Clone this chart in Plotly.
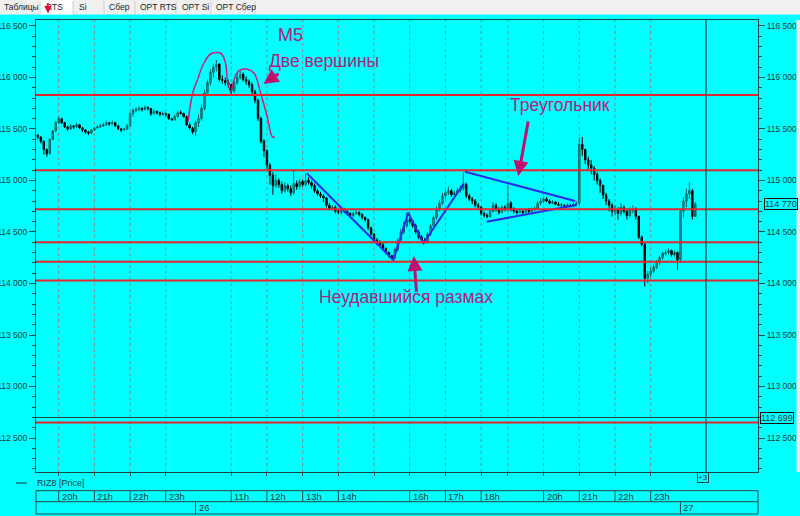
import plotly.graph_objects as go

# ---------------- data ----------------
# M5 bars of RIZ8, evening of the 25th -> morning of the 27th
bar_open = [
    115440, 115420, 115380, 115300, 115260, 115400, 115480,
    115560, 115600, 115560, 115520, 115500, 115530, 115520, 115540, 115510, 115490, 115470, 115460,
    115490, 115510, 115520, 115530, 115540, 115560, 115550, 115560, 115530, 115500, 115490, 115500,
    115530, 115650, 115680, 115690, 115700, 115690, 115710, 115700, 115650, 115670, 115660, 115640,
    115650, 115640, 115600, 115590, 115620, 115660, 115650, 115620, 115540, 115510,
    115470, 115560, 115600, 115700, 115850, 115950, 116050, 116100, 116130, 115980, 115970, 115950,
    115930, 115870, 115950, 116000, 116030, 115980, 115960, 115930, 115860, 115780, 115600, 115380,
    115290, 115150, 115050, 114950, 115000, 114960, 114900, 114950, 114920, 114880, 114970, 114940,
    114990, 114960, 115000, 114980, 114950, 114900, 114870, 114850, 114830, 114760, 114730, 114740,
    114700, 114690, 114720, 114700, 114680, 114660, 114680, 114690, 114670, 114640, 114620, 114540,
    114480, 114420, 114400, 114380, 114340, 114300, 114270, 114250, 114330, 114420, 114500, 114560,
    114620, 114600, 114560, 114500, 114450, 114420, 114400, 114480, 114560, 114640, 114720, 114780,
    114850, 114880, 114900, 114860, 114880, 114900, 114920, 114960, 114850, 114820, 114800, 114760,
    114740, 114680, 114660, 114650, 114700, 114760, 114720, 114690, 114740,
    114720, 114780, 114720, 114700, 114690, 114700, 114690, 114710, 114700, 114720, 114730, 114780,
    114800, 114820, 114800, 114780, 114790, 114770, 114760, 114760, 114750, 114760, 114750, 114770,
    114780, 115350, 115300, 115200, 115150, 115120, 115060, 115000, 114950, 114860, 114800, 114760,
    114700, 114720, 114680, 114740, 114700, 114660, 114710, 114720, 114650, 114450, 114380, 114050,
    114090, 114120, 114160, 114200, 114250, 114290, 114300, 114320, 114280, 114300,
    114230, 114700, 114800, 114870, 114900, 114650,
]
bar_high = [
    115450, 115430, 115390, 115310, 115410, 115490, 115580,
    115620, 115610, 115570, 115530, 115550, 115540, 115560, 115550, 115520, 115500, 115480, 115500,
    115520, 115540, 115550, 115560, 115580, 115570, 115580, 115570, 115540, 115510, 115510, 115550,
    115660, 115700, 115710, 115720, 115710, 115730, 115720, 115700, 115690, 115680, 115670, 115670,
    115660, 115650, 115610, 115640, 115680, 115680, 115660, 115630, 115560, 115520,
    115580, 115640, 115740, 115880, 115980, 116080, 116130, 116170, 116140, 116020, 116000, 115980,
    115940, 115970, 116040, 116070, 116050, 116010, 115980, 115950, 115880, 115790, 115620, 115400,
    115300, 115170, 115080, 115060, 115020, 114990, 114980, 114970, 114950, 115100, 115000, 115020,
    115010, 115070, 115030, 115000, 114970, 114920, 114890, 114870, 114840, 114780, 114760, 114760,
    114720, 114740, 114730, 114710, 114690, 114700, 114710, 114700, 114680, 114650, 114630, 114550,
    114490, 114440, 114420, 114390, 114350, 114310, 114280, 114350, 114440, 114530, 114600, 114690,
    114660, 114620, 114580, 114520, 114470, 114440, 114500, 114580, 114660, 114750, 114810, 114880,
    114910, 114940, 114920, 114900, 114930, 114950, 115080, 114980, 114870, 114840, 114820, 114780,
    114750, 114700, 114680, 114720, 114790, 114780, 114740, 114760, 114760,
    114960, 114800, 114740, 114720, 114720, 114720, 114730, 114730, 114740, 114750, 114800, 114830,
    114840, 114840, 114820, 114810, 114800, 114790, 114780, 114770, 114780, 114770, 114790, 114800,
    115420, 115420, 115310, 115230, 115200, 115140, 115080, 115020, 114960, 114880, 114820, 114780,
    114760, 114740, 114780, 114760, 114720, 114740, 114760, 114740, 114660, 114470, 114400, 114120,
    114150, 114190, 114230, 114270, 114310, 114330, 114340, 114330, 114320, 114310,
    114720, 114840, 114920, 114985, 114920, 114790,
]
bar_low = [
    115400, 115360, 115250, 115230, 115250, 115390, 115470,
    115550, 115550, 115510, 115480, 115490, 115500, 115510, 115500, 115470, 115450, 115440, 115450,
    115480, 115500, 115510, 115520, 115530, 115530, 115540, 115520, 115490, 115470, 115480, 115490,
    115520, 115620, 115660, 115670, 115670, 115680, 115680, 115630, 115640, 115640, 115620, 115630,
    115620, 115590, 115580, 115580, 115610, 115640, 115610, 115530, 115490, 115450,
    115430, 115520, 115580, 115680, 115820, 115920, 116000, 116060, 115960, 115940, 115920, 115900,
    115830, 115850, 115930, 115980, 115960, 115930, 115900, 115840, 115750, 115580, 115360, 115230,
    115100, 114960, 114860, 114930, 114930, 114870, 114880, 114890, 114850, 114860, 114910, 114920,
    114940, 114940, 114960, 114920, 114880, 114850, 114830, 114790, 114740, 114710, 114710, 114680,
    114670, 114670, 114680, 114660, 114640, 114640, 114670, 114650, 114620, 114600, 114520, 114460,
    114400, 114370, 114360, 114320, 114280, 114250, 114230, 114240, 114310, 114400, 114480, 114540,
    114580, 114540, 114480, 114430, 114400, 114390, 114390, 114460, 114540, 114620, 114700, 114760,
    114820, 114860, 114840, 114840, 114860, 114880, 114900, 114830, 114800, 114770, 114740, 114720,
    114660, 114640, 114630, 114640, 114690, 114700, 114670, 114680, 114700,
    114700, 114700, 114680, 114670, 114680, 114670, 114680, 114680, 114690, 114700, 114720, 114760,
    114780, 114790, 114770, 114770, 114760, 114750, 114740, 114740, 114740, 114740, 114740, 114750,
    114760, 115240, 115160, 115100, 115060, 115000, 114960, 114880, 114820, 114760, 114700, 114650,
    114660, 114620, 114660, 114680, 114620, 114640, 114680, 114620, 114430, 114360, 113970, 114000,
    114060, 114100, 114140, 114180, 114230, 114270, 114280, 114260, 114260, 114130,
    114200, 114640, 114740, 114820, 114620, 114740,
]
bar_close = [
    115420, 115380, 115300, 115260, 115400, 115480, 115560,
    115600, 115560, 115520, 115500, 115530, 115520, 115540, 115510, 115490, 115470, 115460, 115490,
    115510, 115520, 115530, 115540, 115560, 115550, 115560, 115530, 115500, 115490, 115500, 115530,
    115650, 115680, 115690, 115700, 115690, 115710, 115700, 115650, 115670, 115660, 115640, 115650,
    115640, 115600, 115590, 115620, 115660, 115650, 115620, 115540, 115510, 115470,
    115560, 115600, 115700, 115850, 115950, 116050, 116100, 116130, 115980, 115970, 115950, 115930,
    115870, 115950, 116000, 116030, 115980, 115960, 115930, 115860, 115780, 115600, 115380, 115290,
    115150, 115050, 114950, 115000, 114960, 114900, 114950, 114920, 114880, 114970, 114940, 114990,
    114960, 115000, 114980, 114950, 114900, 114870, 114850, 114830, 114760, 114730, 114740, 114700,
    114690, 114720, 114700, 114680, 114660, 114680, 114690, 114670, 114640, 114620, 114540, 114480,
    114420, 114400, 114380, 114340, 114300, 114270, 114250, 114330, 114420, 114500, 114560, 114620,
    114600, 114560, 114500, 114450, 114420, 114400, 114480, 114560, 114640, 114720, 114780, 114850,
    114880, 114900, 114860, 114880, 114900, 114920, 114960, 114850, 114820, 114800, 114760, 114740,
    114680, 114660, 114650, 114700, 114760, 114720, 114690, 114740, 114720,
    114780, 114720, 114700, 114690, 114700, 114690, 114710, 114700, 114720, 114730, 114780, 114800,
    114820, 114800, 114780, 114790, 114770, 114760, 114760, 114750, 114760, 114750, 114770, 114780,
    115350, 115300, 115200, 115150, 115120, 115060, 115000, 114950, 114860, 114800, 114760, 114700,
    114720, 114680, 114740, 114700, 114660, 114710, 114720, 114650, 114450, 114380, 114050, 114090,
    114120, 114160, 114200, 114250, 114290, 114300, 114320, 114280, 114300, 114230,
    114700, 114800, 114870, 114900, 114650, 114770,
]
bar_index = list(range(len(bar_close)))

# horizontal levels drawn on the chart
red_levels = [115830, 115100, 114720, 114400, 114210, 114030, 112650]
dark_level = 112699
last_price = 114770

# time axis (bar indexes of hour starts)
grid_idx = [7, 19, 31, 43, 65, 77, 89, 101, 113, 125, 137, 149, 158, 170, 182, 194, 206]
hour_label_idx = [7, 19, 31, 43, 65, 77, 89, 101, 125, 137, 149, 170, 182, 194, 206]
hour_labels = ["20h", "21h", "22h", "23h", "11h", "12h", "13h", "14h",
               "16h", "17h", "18h", "20h", "21h", "22h", "23h"]
day_idx = [53, 216]
day_labels = ["26", "27"]
cursor_idx = 224.6

# hand drawings (bar index, price)
curve_x = [50.5, 51.9, 53.6, 55.8, 58.1, 61.5, 63.1, 63.7, 64.8, 65.9, 67.6, 70.4, 72.7, 74.9, 77.1, 78.8, 79.7]
curve_y = [115571, 115830, 115976, 116138, 116228, 116235, 116138, 115976, 115862, 115976,
           116066, 116080, 116041, 115847, 115619, 115425, 115422]
zigzag_x = [90.4, 119.5, 124.5, 129.6, 143.2]
zigzag_y = [115070, 114228, 114687, 114390, 114973]
tri_upper_x = [143.6, 180.6]
tri_upper_y = [115085, 114801]
tri_lower_x = [150.9, 181.1]
tri_lower_y = [114600, 114762]

X_RANGE = [-0.63, 242.07]
Y_RANGE = [112170, 116558]

# ---------------- figure ----------------
W, H = 800, 516
L, R, T, B = 36, 42, 20, 44
PW, PH = W - L - R, H - T - B


def pxx(px):
    return (px - L) / PW


def pxy(py):
    return (H - B - py) / PH


CYAN = "#00FFFF"
INK = "#1d3a3a"
FRAME = "#1a4848"
MAG_T = "#B0207A"
MAG_A = "#C0106E"
BLUE = "#2a2af0"
RED = "#E4262C"
FONT = "Liberation Sans"

fig = go.Figure()

fig.add_trace(go.Candlestick(
    x=bar_index, open=bar_open, high=bar_high, low=bar_low, close=bar_close,
    increasing=dict(line=dict(color="#0b6464", width=1), fillcolor="#2a9a9a"),
    decreasing=dict(line=dict(color="#000000", width=1), fillcolor="#000000"),
    whiskerwidth=0, showlegend=False, hoverinfo="skip",
))

fig.add_trace(go.Scatter(x=curve_x, y=curve_y, mode="lines",
                         line=dict(color="#C81E7E", width=1.5, shape="spline"),
                         showlegend=False, hoverinfo="skip"))
for xs, ys in [(zigzag_x, zigzag_y), (tri_upper_x, tri_upper_y), (tri_lower_x, tri_lower_y)]:
    fig.add_trace(go.Scatter(x=xs, y=ys, mode="lines", line=dict(color=BLUE, width=2),
                             showlegend=False, hoverinfo="skip"))

# invisible trace to carry the right-hand axis
fig.add_trace(go.Scatter(x=[X_RANGE[0]], y=[Y_RANGE[0]], yaxis="y2", mode="markers",
                         marker=dict(opacity=0), showlegend=False, hoverinfo="skip"))

shapes = []
# tab bar
shapes.append(dict(type="rect", xref="paper", yref="paper", x0=pxx(0), x1=pxx(800),
                   y0=pxy(14.5), y1=pxy(0), fillcolor="#F0F0F0", line=dict(width=0), layer="below"))
shapes.append(dict(type="rect", xref="paper", yref="paper", x0=pxx(40), x1=pxx(73),
                   y0=pxy(14.5), y1=pxy(0), fillcolor="#FFFFFF", line=dict(width=0), layer="below"))
for sx in [40, 73, 104, 135, 176, 211, 255]:
    shapes.append(dict(type="line", xref="paper", yref="paper", x0=pxx(sx), x1=pxx(sx),
                       y0=pxy(14), y1=pxy(1), line=dict(color="#D0D0D0", width=1)))
# right strip
shapes.append(dict(type="rect", xref="paper", yref="paper", x0=pxx(796.5), x1=pxx(800),
                   y0=pxy(472), y1=pxy(20), fillcolor="#E8E8E8", line=dict(width=0)))

# dotted hour grid
for gi in grid_idx:
    shapes.append(dict(type="line", xref="x", yref="paper", x0=gi, x1=gi, y0=0, y1=1,
                       line=dict(color="#7d8c8c", width=1, dash="dot"), layer="below"))

# red support/resistance levels
for lv in red_levels:
    shapes.append(dict(type="line", xref="paper", yref="y", x0=0, x1=1, y0=lv, y1=lv,
                       line=dict(color=RED, width=2)))
shapes.append(dict(type="line", xref="paper", yref="y", x0=0, x1=1, y0=dark_level, y1=dark_level,
                   line=dict(color=FRAME, width=1)))
# cursor line
shapes.append(dict(type="line", xref="x", yref="paper", x0=cursor_idx, x1=cursor_idx, y0=0, y1=1,
                   line=dict(color="#1f6060", width=1.5)))

# bottom time table
for yy in [490.7, 501.7, 514]:
    shapes.append(dict(type="line", xref="paper", yref="paper", x0=0, x1=1, y0=pxy(yy), y1=pxy(yy),
                       line=dict(color=FRAME, width=1)))
for xx in [0, 1]:
    shapes.append(dict(type="line", xref="paper", yref="paper", x0=xx, x1=xx,
                       y0=pxy(514), y1=pxy(490.7), line=dict(color=FRAME, width=1)))
for hi in hour_label_idx:
    shapes.append(dict(type="line", xref="x", yref="paper", x0=hi, x1=hi,
                       y0=pxy(501.7), y1=pxy(490.7), line=dict(color=FRAME, width=1)))
for di in day_idx:
    shapes.append(dict(type="line", xref="x", yref="paper", x0=di, x1=di,
                       y0=pxy(514), y1=pxy(501.7), line=dict(color=FRAME, width=1)))
# legend dash
shapes.append(dict(type="line", xref="paper", yref="paper", x0=pxx(16), x1=pxx(27),
                   y0=pxy(483), y1=pxy(483), line=dict(color=INK, width=1)))

annotations = []
# tab labels
for tx, tl in [(2, "Таблицы"), (44, "RTS"), (77, "Si"), (107, "Сбер"), (138, "OPT RTS"),
               (180, "OPT Si"), (214, "OPT Сбер")]:
    annotations.append(dict(xref="paper", yref="paper", x=pxx(tx), y=pxy(7.5), text=tl,
                            showarrow=False, xanchor="left", yanchor="middle",
                            font=dict(family=FONT, size=8.5, color="#202020")))
annotations.append(dict(xref="paper", yref="paper", x=pxx(48), y=pxy(13.5), ax=0, ay=-12,
                        text="", showarrow=True, arrowhead=2, arrowsize=1, arrowwidth=1.5,
                        arrowcolor="#E0103A"))

# price boxes on the right axis
for pv, bx in [(last_price, 763.5), (dark_level, 759.5)]:
    annotations.append(dict(xref="paper", yref="y", x=pxx(bx), y=pv,
                            text=f"{pv:,}".replace(",", " "), showarrow=False,
                            xanchor="left", yanchor="middle", bgcolor=CYAN,
                            bordercolor="#101010", borderwidth=1, borderpad=0,
                            font=dict(family=FONT, size=9, color=INK)))

# legend text and "+3" box
annotations.append(dict(xref="paper", yref="paper", x=pxx(35), y=pxy(483), text="RIZ8 [Price]",
                        showarrow=False, xanchor="left", yanchor="middle",
                        font=dict(family=FONT, size=9, color=INK)))
annotations.append(dict(xref="x", yref="paper", x=223.6, y=pxy(477.5), text="+3",
                        showarrow=False, xanchor="center", yanchor="middle",
                        bordercolor=INK, borderwidth=1, borderpad=0,
                        font=dict(family=FONT, size=8, color=INK)))

# hour and day labels
for hi, hl in zip(hour_label_idx, hour_labels):
    annotations.append(dict(xref="x", yref="paper", x=hi, y=pxy(496.2), text=hl, showarrow=False,
                            xanchor="left", yanchor="middle", xshift=1,
                            font=dict(family=FONT, size=9.5, color=INK)))
for di, dl in zip(day_idx, day_labels):
    annotations.append(dict(xref="x", yref="paper", x=di, y=pxy(508), text=dl, showarrow=False,
                            xanchor="left", yanchor="middle", xshift=1,
                            font=dict(family=FONT, size=9.5, color=INK)))

# pattern captions
for tx, ty, tt, fs in [(84.8, 116413, "М5", 18), (96.2, 116160, "Две вершины", 17.5),
                       (175.5, 115733, "Треугольник", 17.5),
                       (123.7, 113869, "Неудавшийся размах", 17.5)]:
    annotations.append(dict(xref="x", yref="y", x=tx, y=ty, text=tt, showarrow=False,
                            xanchor="center", yanchor="middle",
                            font=dict(family=FONT, size=fs, color=MAG_T)))
for hx, hy, tx, ty in [(75.8, 115937, 81.4, 116047), (161.5, 115044, 164.9, 115587),
                       (126.4, 114267, 127.3, 113905)]:
    annotations.append(dict(xref="x", yref="y", x=hx, y=hy, axref="x", ayref="y", ax=tx, ay=ty,
                            text="", showarrow=True, arrowhead=2, arrowsize=1, arrowwidth=3,
                            arrowcolor=MAG_A))

yaxis_common = dict(
    range=Y_RANGE, tick0=112500, dtick=500, tickformat=",d",
    ticks="outside", ticklen=6, tickcolor=FRAME, tickwidth=1,
    minor=dict(dtick=100, tick0=112500, ticks="outside", ticklen=3, tickcolor=FRAME, showgrid=False),
    showgrid=False, zeroline=False, showline=True, linecolor=FRAME, linewidth=1,
    tickfont=dict(family=FONT, size=8.5, color=INK), fixedrange=True, automargin=False,
    ticklabelstandoff=0,
)

fig.update_layout(
    width=W, height=H,
    margin=dict(l=L, r=R, t=T, b=B, pad=0, autoexpand=False),
    paper_bgcolor=CYAN, plot_bgcolor=CYAN,
    separators=". ",
    showlegend=False,
    xaxis=dict(range=X_RANGE, tickvals=grid_idx, showticklabels=False,
               ticks="outside", ticklen=3, tickcolor=FRAME,
               showgrid=False, zeroline=False, showline=True, linecolor=FRAME, mirror=True,
               rangeslider=dict(visible=False), fixedrange=True, automargin=False),
    yaxis=dict(side="left", **yaxis_common),
    yaxis2=dict(side="right", overlaying="y", **yaxis_common),
    shapes=shapes, annotations=annotations,
)

fig.write_html(
    "out.html",
    config={"displayModeBar": False, "staticPlot": True},
    post_script="document.body.style.margin='0px';document.body.style.overflow='hidden';",
)
